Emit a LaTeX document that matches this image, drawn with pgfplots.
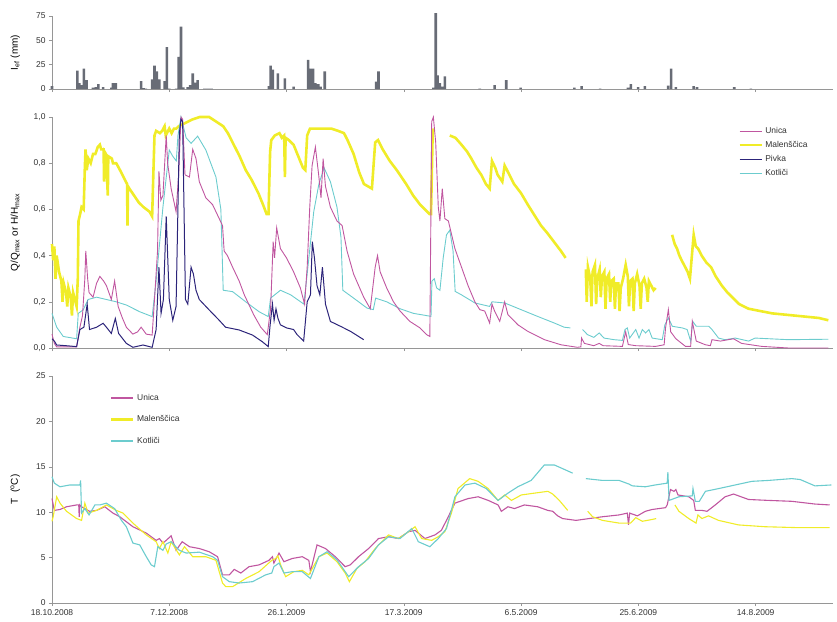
\documentclass[border=0pt]{standalone}
\usepackage{pgfplots}
\pgfplotsset{compat=1.18}
\usepackage{fontspec}
\setmainfont{Liberation Sans}
\definecolor{unica}{RGB}{192,86,160}
\definecolor{malen}{RGB}{240,236,40}
\definecolor{pivka}{RGB}{44,36,122}
\definecolor{kotlici}{RGB}{108,204,206}
\definecolor{raincol}{RGB}{104,108,118}
\definecolor{axgray}{RGB}{150,150,150}
\definecolor{txt}{RGB}{50,50,50}
\pgfplotsset{
  myaxis/.style={
    scale only axis, width=781bp, xmin=0, xmax=333,
    axis x line*=bottom, axis y line*=left,
    axis line style={axgray, line width=0.6bp},
    tick style={axgray, line width=0.6bp},
    tick align=outside, major tick length=3bp,
    xtick={0,50,100,150,200,250,300},
    ticklabel style={font=\fontsize{8.5}{10}\selectfont, text=txt},
    label style={font=\fontsize{9.5}{11}\selectfont, text=txt},
    /pgf/number format/assume math mode=true,
    every axis y label/.style={at={(axis description cs:-0.047,0.5)}, rotate=90, anchor=center},
    clip=false,
    anchor=south west,
    unbounded coords=jump,
    legend image code/.code={\draw[##1] (0bp,0bp) -- (22bp,0bp);},
  }
}
\begin{document}
\begin{tikzpicture}
\useasboundingbox (0,0) rectangle (837bp,-622bp);
% ---------------- rainfall ----------------
\begin{axis}[myaxis, at={(52bp,-89bp)}, height=73bp, ymin=0, ymax=75,
  ytick={0,25,50,75}, xticklabels={}, ylabel={I\textsubscript{ef} (mm)}]
\addplot[ybar, bar width=2.6bp, bar shift=0pt, fill=raincol, draw=none] coordinates {
(0,3)(10.8,19)(11.6,6)(12.6,4)(13.6,21)(14.7,9)(17.5,1.5)(18.7,2)(19.8,5)(21.8,2)
(25.3,1.5)(26,6)(27.2,6)(38,8)(39,1)(40,0.5)(42.7,10)(43.7,24)(44.7,18)(45.8,10)
(48,8)(49,43)(50,0.5)(52.9,0.5)(54,33)(55,64)(56,1.7)(57.9,2)(58.9,4)(60,16)
(61.1,6.5)(62.1,9)(65,0.5)(66,0.5)(67,0.5)(68,0.5)(92.5,3)(93.2,24)(94.2,20)(96.3,16)
(99.3,11)(103,2.5)(109.2,30)(110.2,21)(111.3,21)(112.3,6)(113.5,5)(114.5,2.4)(116.3,18)
(138.2,7.5)(139.2,18)(162.6,1.4)(163.6,78)(164.4,14)(165.4,6)(166.4,2.4)(167.5,13)
(182.4,0.5)(188.7,4)(193.7,9)(199.8,1.5)(222.7,1.5)(225.8,3)(233.7,0.5)(245.6,1.5)
(246.8,5)(249.9,2)(252.8,3)(262.7,3.5)(264,21)(266,2)(273.6,3)(275,2)(290.9,2)(298,0.5)
};
\end{axis}
% ---------------- discharge ----------------
\begin{axis}[myaxis, at={(52bp,-348bp)}, height=231bp, ymin=0, ymax=1,
  ytick={0,0.2,0.4,0.6,0.8,1}, xticklabels={},
  yticklabel style={/pgf/number format/.cd, use comma, fixed, fixed zerofill, precision=1},
  ylabel={Q/Q\textsubscript{max} or H/H\textsubscript{max}},
  legend style={at={(0.879,0.965)}, anchor=north west, draw=none, fill=none,
    font=\fontsize{8.5}{10}\selectfont, text=txt, row sep=2.5bp, inner sep=0pt,
    /tikz/every odd column/.append style={column sep=1bp}},
  legend cell align=left]
\addlegendimage{unica, line width=1.1bp}
\addlegendentry{Unica}
\addlegendimage{malen, line width=1.6bp}
\addlegendentry{Malenščica}
\addlegendimage{pivka, line width=1.1bp}
\addlegendentry{Pivka}
\addlegendimage{kotlici, line width=1.1bp}
\addlegendentry{Kotliči}
\addplot[forget plot, malen, line width=2.6bp] coordinates {
(0,0.45)(0.5,0.38)(1,0.44)(1.5,0.30)(2,0.40)(3,0.33)(4,0.29)(4.5,0.20)(5,0.28)(6,0.24)
(6.5,0.18)(7,0.26)(8,0.22)(8.5,0.14)(9,0.24)(10,0.20)(10.5,0.18)(11,0.30)(11.3,0.55)(12,0.58)
(12.6,0.61)(13.5,0.60)(14,0.78)(14.3,0.86)(14.8,0.77)(15.5,0.82)(16.5,0.80)(17.5,0.84)(18.5,0.84)
(19.5,0.87)(20.4,0.88)(21,0.86)(22,0.86)(22.2,0.72)(22.4,0.85)(23,0.84)(23.8,0.66)(24,0.83)
(25.5,0.82)(26,0.80)(27.4,0.80)(29,0.77)(30,0.75)(31,0.73)(32,0.71)(32.2,0.53)(32.4,0.70)
(33,0.69)(35,0.66)(37,0.63)(39,0.61)(41.6,0.59)(42.7,0.57)(43.2,0.75)(43.7,0.92)(44.4,0.94)
(46,0.93)(47,0.94)(48,0.96)(48.5,0.92)(50,0.95)(51,0.93)(52,0.95)(53,0.95)(54,0.96)(56,0.97)
(58,0.98)(60,0.99)(63,1.0)(67,1.0)(70,0.98)(73,0.96)(75,0.93)(77,0.89)(80,0.83)(82.6,0.77)
(85,0.73)(88,0.67)(90,0.62)(91.5,0.58)(92.3,0.58)(93,0.85)(93.5,0.90)(95,0.92)(97,0.93)
(98,0.91)(99,0.92)(99.3,0.74)(99.6,0.91)(101,0.90)(103,0.88)(105,0.83)(107,0.78)(108,0.77)
(108.8,0.92)(110,0.95)(113,0.95)(116,0.95)(119,0.95)(122,0.94)(124.5,0.93)(126,0.90)
(128.6,0.84)(131,0.76)(133,0.71)(136.4,0.69)(137.8,0.89)(139,0.90)(141,0.86)(144,0.81)
(147,0.77)(151,0.71)(154,0.66)(157,0.62)(161,0.58)(161.6,0.58)(162.3,0.93)(162.8,0.95)
(163,nan)
(169.6,0.92)(172,0.91)(174.6,0.88)(177,0.85)(178.8,0.82)(181,0.78)(183,0.75)(185,0.71)
(186.6,0.69)(187.6,0.81)(189,0.78)(190,0.75)(192,0.72)(193,0.79)(195,0.75)(197,0.71)(200,0.67)
(202.9,0.62)(206,0.57)(208.5,0.53)(211,0.50)(214,0.46)(217,0.42)(219,0.39)
(220,nan)
(227.6,0.34)(228,0.20)(228.5,0.35)(229.5,0.30)(230,0.18)(230.5,0.33)(231.5,0.36)(232,0.19)
(232.5,0.30)(233.5,0.34)(234,0.22)(234.5,0.31)(235.5,0.33)(236,0.17)(236.5,0.30)(237.5,0.32)
(238,0.20)(238.5,0.29)(239.5,0.30)(240,0.17)(240.5,0.28)(241.5,0.28)(242,0.16)(242.5,0.26)
(243.5,0.30)(244.6,0.36)(245.5,0.31)(246,0.18)(246.5,0.29)(247.5,0.30)(248,0.16)(248.5,0.28)
(249.5,0.32)(250.5,0.27)(251,0.17)(251.5,0.28)(252.5,0.30)(253.5,0.26)(254,0.20)(254.5,0.29)
(255.5,0.27)(256.5,0.25)(257.4,0.26)
(258,nan)
(264.4,0.49)(265.5,0.45)(266.5,0.43)(267.5,0.40)(268.7,0.375)(270,0.35)(271,0.33)(272,0.30)
(273,0.42)(273.6,0.49)(274.5,0.44)(275.5,0.43)(277,0.40)(279,0.37)(281,0.35)(283,0.31)
(285.6,0.27)(288,0.24)(290,0.22)(293,0.19)(297,0.17)(302,0.16)(307,0.15)(312,0.145)
(317,0.14)(322,0.135)(327,0.13)(331,0.12)
};
\addplot[forget plot, kotlici, line width=0.9bp] coordinates {
(0,0.15)(2,0.09)(4.8,0.05)(10.5,0.04)(11.2,0.15)(13.3,0.165)(15.4,0.21)(19,0.22)(23.2,0.21)
(27.4,0.20)(31.7,0.186)(37.4,0.157)(42.7,0.136)(44.4,0.29)(47.3,0.61)(50,0.857)(51.5,0.83)
(53,0.81)(53.7,0.92)(55,1.0)(57.2,0.91)(59.3,0.886)(62.1,0.917)(65.6,0.857)(69.9,0.74)
(72,0.60)(73,0.25)(77,0.244)(82.6,0.20)(88.3,0.157)(92.2,0.136)(93.2,0.216)(97.4,0.25)
(101.8,0.23)(107.4,0.19)(108.8,0.32)(111.6,0.59)(113.8,0.71)(116,0.78)(118.7,0.72)
(121.5,0.61)(123.2,0.48)(124,0.25)(128.6,0.216)(134.3,0.173)(137,0.166)(138,0.216)
(142.7,0.20)(148.4,0.17)(154.1,0.15)(161.6,0.137)(162,0.29)(163,0.30)(164,0.26)(165.4,0.25)
(166.8,0.39)(168.2,0.49)(169.6,0.51)(171,0.42)(171.9,0.245)(174.6,0.23)(180.3,0.195)
(186.6,0.18)(187.6,0.20)(193,0.195)(200,0.166)(207,0.137)(214.2,0.108)(218.4,0.09)(221,0.087)
(222,nan)
(226.2,0.08)(228.3,0.058)(231,0.046)(233.3,0.065)(235.4,0.043)(239.7,0.036)(243.2,0.033)
(244.3,0.08)(245.3,0.087)(246.3,0.043)(248.9,0.08)(250.3,0.043)(251.7,0.08)(253.1,0.065)
(254.5,0.08)(255.9,0.043)(260.2,0.036)(261.3,0.10)(262.8,0.13)(264.5,0.094)(268.7,0.087)
(270.8,0.08)(272.3,0.03)(273.2,0.115)(274.7,0.094)(280,0.094)(281.4,0.08)(284.2,0.043)
(287,0.036)(291.3,0.043)(297,0.03)(299.8,0.043)(314,0.036)(331,0.038)
};
\addplot[forget plot, unica, line width=0.9bp] coordinates {
(0,0.06)(1,0.02)(2,0.005)(5,0.005)(10.5,0.005)(11.9,0.09)(13,0.14)(14,0.30)(14.4,0.42)
(15.2,0.30)(15.8,0.24)(17.5,0.22)(19,0.28)(20.4,0.31)(22,0.29)(23.2,0.27)(25.3,0.21)
(26.7,0.29)(28.2,0.18)(30,0.13)(31.7,0.09)(34.5,0.06)(36.5,0.07)(38,0.09)(40.2,0.06)
(42.7,0.056)(43.7,0.21)(45,0.42)(45.6,0.765)(46.4,0.64)(47.3,0.66)(48.7,0.92)(49.3,0.80)
(50.8,0.69)(52.9,0.59)(54,0.75)(55,1.0)(55.7,0.99)(56.7,0.75)(58.6,0.74)(60,0.86)(61.4,0.82)
(62.8,0.72)(65.6,0.65)(68.5,0.62)(71.3,0.56)(72.7,0.53)(73.4,0.42)(74.8,0.40)(77,0.35)
(79.8,0.29)(82,0.23)(86,0.144)(89,0.09)(91.8,0.058)(93.2,0.17)(94.3,0.46)(94.9,0.39)
(95.8,0.52)(97.4,0.43)(100,0.39)(103,0.33)(105.9,0.26)(107.7,0.19)(108.8,0.35)(109.9,0.61)
(110.9,0.79)(112.3,0.87)(113.7,0.75)(114.7,0.65)(115.6,0.82)(116.6,0.70)(118.7,0.61)
(121.5,0.55)(123.7,0.53)(125.8,0.42)(128.6,0.32)(132.9,0.22)(135.7,0.17)(137.8,0.35)
(138.8,0.40)(139.9,0.33)(142.7,0.26)(145.6,0.20)(148.4,0.16)(152.6,0.115)(156.9,0.087)
(159.7,0.058)(161.1,0.05)(161.9,0.98)(162.6,1.0)(163.6,0.89)(164.7,0.61)(165.4,0.55)
(166.4,0.69)(167.5,0.56)(169,0.55)(171.8,0.43)(174.6,0.35)(177.4,0.27)(180.3,0.20)
(182.4,0.166)(184.5,0.16)(186.6,0.108)(187.6,0.19)(188.7,0.16)(190.9,0.115)(193,0.20)
(194.4,0.144)(198.7,0.10)(202.9,0.072)(210,0.036)(217,0.014)(224,0.003)(225.5,0.005)
(225.8,0.043)(227,0.02)(231,0.01)(233.3,0.02)(235,0.01)(243.2,0.007)(244.6,0.07)(245.7,0.015)
(248.9,0.01)(257.4,0.007)(261,0.014)(261.6,0.087)(262.8,0.166)(263.8,0.07)(266,0.04)
(270.1,0.007)(272.3,0.007)(273,0.115)(274.7,0.03)(278.6,0.014)(280.7,0.01)(281.4,0.036)
(285,0.03)(290.6,0.04)(294,0.02)(302.6,0.007)(314,0.0)(331,0.0)
};
\addplot[forget plot, pivka, line width=1bp] coordinates {
(0,0.04)(1,0.03)(2,0.013)(6,0.01)(10.5,0.006)(11.9,0.08)(13.6,0.09)(15,0.19)(16,0.08)(19,0.09)
(21.8,0.107)(23.2,0.09)(25.3,0.063)(27,0.128)(28.4,0.063)(31.7,0.02)(34.5,0.003)(38.8,0.013)
(42.7,0.003)(44.4,0.08)(45.6,0.35)(46.5,0.15)(47.5,0.21)(48.7,0.57)(50,0.21)(51.5,0.12)
(52.9,0.18)(54.3,0.93)(55,0.99)(55.7,0.98)(56.9,0.21)(57.9,0.19)(59.3,0.35)(60.3,0.32)
(61.4,0.25)(62.8,0.21)(67,0.165)(71.3,0.12)(74,0.09)(79.8,0.078)(85.5,0.056)(89.7,0.027)
(92.2,0.006)(93,0.10)(94,0.19)(94.7,0.12)(95.5,0.17)(96.3,0.13)(97.4,0.10)(100,0.087)
(103,0.08)(104.5,0.058)(107.3,0.03)(108.8,0.20)(110.2,0.23)(111,0.46)(111.9,0.39)(113,0.27)
(114.2,0.23)(115.3,0.35)(116.6,0.19)(118.7,0.115)(123,0.094)(127.3,0.072)(132.9,0.036)
};
\end{axis}
% ---------------- temperature ----------------
\begin{axis}[myaxis, at={(52bp,-603bp)}, height=227bp, ymin=0, ymax=25,
  ytick={0,5,10,15,20,25},
  xticklabels={18.10.2008,7.12.2008,26.1.2009,17.3.2009,6.5.2009,25.6.2009,14.8.2009},
  ylabel={T\ \ (\textsuperscript{o}C)},
  legend style={at={(0.074,0.93)}, anchor=north west, draw=none, fill=none,
    font=\fontsize{8.5}{10}\selectfont, text=txt, row sep=10bp, inner sep=0pt,
    /tikz/every odd column/.append style={column sep=1bp}},
  legend cell align=left]
\addlegendimage{unica, line width=1.5bp}
\addlegendentry{Unica}
\addlegendimage{malen, line width=2.2bp}
\addlegendentry{Malenščica}
\addlegendimage{kotlici, line width=1.5bp}
\addlegendentry{Kotliči}
\addplot[forget plot, unica, line width=1.1bp] coordinates {
(0,11.5)(1,10.2)(3.4,10.3)(6.2,10.6)(10.5,10.8)(11.4,10.8)(11.6,9.5)(11.9,10.8)(12.6,10.6)
(16,10.1)(19,10.2)(22.5,10.6)(26,9.9)(28.9,9.5)(34.5,8.4)(40.2,7.7)(44.4,6.9)(45.8,7.1)
(47.3,6.6)(48.7,6.9)(50.8,7.4)(52.9,5.8)(55.5,6.75)(58.6,6.2)(62.8,6.0)(67,5.65)(70.6,5.1)
(72.7,3.1)(75.6,3.1)(77.7,3.7)(80.5,3.3)(84,4.0)(88.3,4.2)(92.5,4.7)(94,5.1)(94.6,4.4)
(96.8,5.5)(98.9,4.55)(102.4,4.9)(106.7,5.1)(109.5,4.7)(110.2,3.45)(113,6.4)(116.6,6.0)
(120.8,5.1)(125,4.0)(127.2,4.2)(130.7,5.1)(135,6.0)(139.2,7.1)(143.5,7.3)(147.7,7.1)
(152,7.85)(154.8,8.0)(159,7.1)(163.3,7.5)(166,8.0)(168.2,9.1)(171.8,11.0)(177.4,11.5)
(181.7,11.7)(186,11.3)(190.2,10.8)(191.6,10.1)(194.4,10.6)(197.2,10.4)(201.4,10.8)
(207.1,10.6)(211.4,10.2)(213.5,10.1)(215.6,9.6)(217.7,9.3)(223.4,9.1)(229,9.3)(234.7,9.5)
(241.8,9.7)(245.3,9.9)(245.8,8.6)(246.3,9.9)(249.6,9.6)(253,10.1)(255.9,10.3)(261.6,10.5)
(262.3,10.8)(263.7,12.5)(265.2,12.3)(266,12.5)(266.9,11.9)(271.5,11.7)(273.6,11.3)(274.3,10.2)
(277.1,10.2)(279.3,10.1)(282.8,10.8)(287,11.7)(290.6,12.0)(297,11.4)(305.5,11.3)(315.4,11.2)
(325.3,10.9)(331.6,10.8)
};
\addplot[forget plot, malen, line width=1.1bp] coordinates {
(0,9.0)(0.5,9.5)(2,11.7)(3.4,11.0)(6.2,10.1)(10.5,9.3)(12.6,9.1)(14,11.0)(15.4,9.9)(19,10.2)
(23.2,10.8)(27.4,10.2)(30.3,9.9)(34.5,8.8)(40.2,7.5)(44.4,6.75)(45.8,6.0)(47.3,6.75)(49.4,5.5)
(50.8,6.75)(54.3,5.3)(56.5,6.2)(60,5.1)(65.6,5.1)(69.9,4.7)(72.7,2.2)(74.1,1.8)(77,1.8)
(82.6,2.7)(88.3,3.45)(93.7,4.7)(95.4,4.9)(96.3,5.2)(97.5,4.2)(99.6,2.9)(103.1,3.45)(106.7,3.6)
(109.5,3.1)(113.8,5.1)(117.3,5.5)(121.5,4.55)(125,3.3)(126.8,2.35)(130,3.8)(133.5,4.55)
(137.8,6.0)(143.5,7.5)(147.7,7.1)(152,7.85)(154.8,8.4)(157.6,7.1)(161.9,6.9)(164.7,7.3)
(167.5,7.85)(170.3,9.9)(173.1,12.6)(178.1,13.7)(181.7,13.4)(186,12.6)(190.2,11.3)(193,11.9)
(195.9,11.3)(200.1,11.9)(205.7,12.1)(211.4,12.3)(213.5,12.0)(216.3,11.3)(219.9,10.2)
(221,nan)
(228.4,10.1)(230.5,9.5)(234.7,9.1)(241.8,8.8)(246.7,8.8)(248.9,9.4)(251.7,9.0)(255.9,9.2)(257.6,9.3)
(259,nan)
(265.6,10.8)(267.3,10.1)(271.5,9.3)(274.6,8.8)(275.4,9.7)(277.1,9.3)(279.9,9.6)(284.2,9.1)
(292.7,8.6)(304,8.4)(318.2,8.3)(331.6,8.3)
};
\addplot[forget plot, kotlici, line width=1.1bp] coordinates {
(0,13.9)(1,13.2)(3.4,12.8)(7.6,13.0)(11.9,13.0)(12.2,13.5)(12.6,9.9)(14,10.4)(15.8,9.7)
(18.3,10.8)(20.4,10.8)(23.2,11.0)(26.7,10.4)(29.6,9.1)(31.7,8.4)(34.5,6.6)(37.4,6.4)(40.2,5.1)
(42.3,4.2)(43.7,4.0)(45.1,6.2)(47.3,5.8)(48.7,6.5)(50.8,6.75)(54.3,5.8)(57.2,5.5)(62.8,5.6)
(68.5,5.1)(70.6,4.7)(72.7,2.9)(75.6,2.35)(79.8,2.2)(85.5,2.35)(91.1,3.1)(93.7,3.3)(94.6,4.0)
(96.8,4.4)(98.9,3.3)(102.4,3.45)(106.7,3.45)(110.2,2.7)(113.8,5.1)(117.3,5.65)(121.5,4.75)
(126.5,2.9)(130.7,4.0)(135,4.9)(139.2,6.4)(143.5,7.3)(148.4,7.1)(153.4,8.2)(156.2,6.75)
(161.1,6.2)(164.7,7.1)(168.2,8.2)(171.8,11.7)(176.1,13.0)(180.3,13.2)(185.2,12.6)(190.2,11.3)
(194.4,12.1)(198.6,12.8)(204.3,13.5)(209.9,15.2)(214.2,15.2)(217.7,14.8)(222,14.3)
(224,nan)
(227.6,13.7)(234.7,13.5)(241.8,13.5)(246,13.1)(247.4,12.9)(253,12.8)(257.2,13.0)(262.3,13.2)
(262.6,14.4)(263.1,11.3)(267.3,11.7)(273,11.8)(273.3,12.6)(274.3,11.2)(276,11.2)(278.6,12.3)
(284.2,12.6)(291.3,13.0)(298.4,13.4)(305.5,13.5)(315.4,13.7)(319,13.6)(325.3,12.9)(332.3,13.0)
};
\end{axis}
\end{tikzpicture}
\end{document}
